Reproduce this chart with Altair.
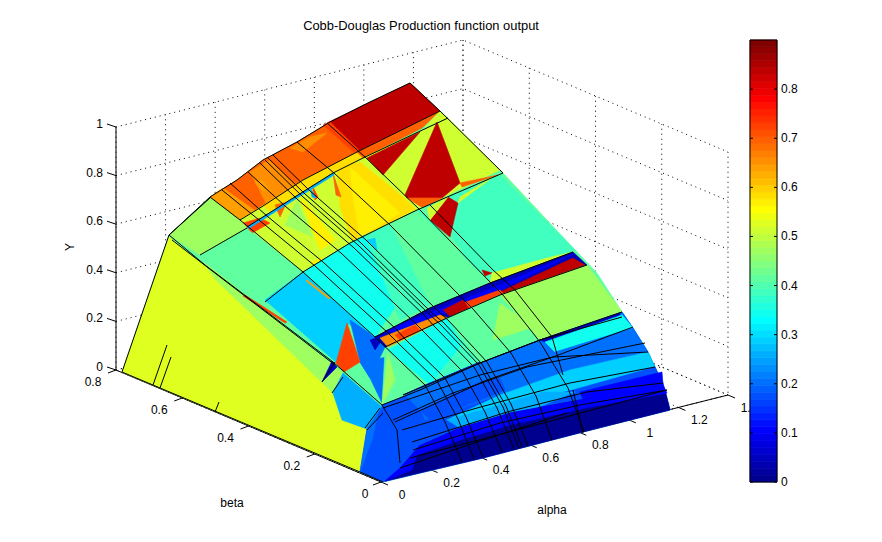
import altair as alt
import pandas as pd

# ---------- values ----------
title_text = "Cobb-Douglas Production function output"
alpha_ticks = [0, 0.2, 0.4, 0.6, 0.8, 1, 1.2, 1.4]
beta_ticks = [0, 0.2, 0.4, 0.6, 0.8]
y_ticks = [0, 0.2, 0.4, 0.6, 0.8, 1]
bar_ticks = [0, 0.1, 0.2, 0.3, 0.4, 0.5, 0.6, 0.7, 0.8]

# colour values (position on the colour bar) of the surface patches
NAVY, DB, BL, B2, B3, B4, B5, CY = 0.014, 0.056, 0.11, 0.17, 0.21, 0.254, 0.29, 0.34
T1, T2, G1, G2, YG, Y1, Y2 = 0.38, 0.41, 0.477, 0.5175, 0.533, 0.5625, 0.578
O1, O2, O3, O4, R2, R3 = 0.637, 0.66, 0.70, 0.727, 0.83, 0.84

# The surface is only known through its flattened view: view-plane points
back_arc = [(210,197),(237,180),(263,160),(297,142),(330,122),(370,102),(410,83)]
arc_a1 = [(240,220),(263,206),(303,180),(357,152),(440,111)]
arc_a2 = [(247,227),(333,173),(363,158),(448,118)]
arc_c = [(303,272),(350,243),(388,224),(417,210),(503,173)]
arc_e = [(375,337),(430,308),(490,283),(573,252)]
arc_bl = [(385,347),(447,318),(500,295),(587,265)]
arc_g = [(382,405),(420,390),(480,363),(540,340),(622,312)]

patches = [
    (T2, [(122,372),(169,235)] + back_arc + [(440,111),(503,173),(547,220),(597,273),(622,312),(633,328),(648,352),(655,367),(663,383),(670,410),(583,432),(483,458),(383,482),(360,472)]),
    # back row
    (O3, back_arc[:5] + [(357,152),(303,180),(240,220)]),
    (O1, [(210,197),(223,188),(257,212),(240,220)]),
    (O2, [(250,172),(270,160),(297,187),(267,205)]),
    (O1, [(255,182),(262,180),(272,192),(262,190)]),
    (O2, [(290,148),(310,137),(327,133),(303,152)]),
    (R3, [(327,123),(370,102),(410,83),(440,111),(357,152)]),
    (O4, [(323,125),(330,122),(360,151),(355,153)]),
    # thin band
    (Y2, [(240,220),(303,180),(357,152),(363,158),(333,173),(247,227)]),
    (G2, [(240,220),(263,206),(270,212),(247,227)]),
    (O3, [(357,152),(440,111),(422,128),(363,158)]),
    (G2, [(440,111),(448,118),(425,127)]),
    # yellow cell
    (G2, [(247,227),(333,173),(363,158),(417,210),(388,224),(350,243),(303,272)]),
    (Y2, [(337,167),(360,162),(417,208),(353,243),(340,207)]),
    (Y1, [(350,167),(400,213),(360,237),(353,197)]),
    (G1, [(297,200),(313,237),(285,225)]),
    (Y1, [(300,195),(335,240),(320,250),(305,210)]),
    (O3, [(275,205),(287,202),(280,217)]),
    (O3, [(333,173),(341,197),(336,195)]),
    (O4, [(243,223),(252,233),(270,223),(260,218)]),
    (O4, [(312,185),(318,197),(315,200)]),
    (B4, [(310,187),(316,198),(312,197)]),
    (Y1, [(310,263),(323,257),(317,265)]),
    (CY, [(375,153),(448,118),(448,120),(375,155)]),
    (B4, [(247,227),(333,173),(334,175),(248,229)]),
    # red cell on the right
    (G2, [(363,158),(448,118),(500,170),(417,210)]),
    (R2, [(367,158),(420,132),(383,175)]),
    (R2, [(437,122),(460,183),(442,198),(407,198),(405,195)]),
    (O3, [(407,198),(442,198),(423,208)]),
    (O3, [(460,183),(498,175),(462,187)]),
    # left cells
    (G1, [(169,235),(210,198),(240,220),(247,228),(200,255)]),
    (T2, [(200,255),(247,229),(303,272),(267,297)]),
    (YG, [(122,372),(169,237),(205,266),(215,277),(332,392),(342,420),(367,429),(360,472)]),
    (G1, [(205,263),(343,373),(332,392),(215,279)]),
    (B5, [(265,300),(303,272),(375,337),(350,325),(347,323),(337,363)]),
    (B3, [(350,320),(375,337),(385,347),(370,378),(360,362)]),
    (O4, [(347,323),(360,362),(344,372),(336,363)]),
    (DB, [(332,361),(322,382),(337,367)]),
    (DB, [(370,340),(385,335),(375,350)]),
    (B4, [(333,393),(343,373),(382,407),(367,429),(342,420)]),
    (B3, [(360,362),(387,357),(382,403),(370,378)]),
    (T2, [(347,373),(368,393),(357,368)]),
    (B2, [(367,429),(382,407),(395,425),(400,460),(383,482),(360,472)]),
    (B3, [(367,429),(378,413),(372,440),(360,472)]),
    (O4, [(245,295),(287,322),(285,323),(243,296)]),
    (O1, [(307,280),(330,298),(329,299),(306,281)]),
    # teal rows
    (T2, [(303,272),(350,243),(388,224),(417,210),(491,283),(430,308),(375,337)]),
    (CY, [(303,272),(350,243),(365,235),(400,300),(375,337)]),
    (T1, [(365,235),(390,224),(430,305),(400,320)]),
    (B5, [(367,240),(375,238),(377,250)]),
    (T1, [(417,210),(500,175),(575,250),(547,258),(492,273),(491,283)]),
    (T2, [(420,208),(425,208),(462,250),(455,250)]),
    (R2, [(448,197),(458,203),(450,237),(430,220)]),
    (G2, [(427,208),(448,197),(430,220)]),
    (G2, [(458,203),(493,177),(460,197)]),
    (R2, [(482,270),(492,273),(485,276)]),
    (G2, [(490,283),(492,273),(547,258),(573,252)]),
    # dark band
    (DB, arc_e + arc_bl[::-1]),
    (BL, [(385,331),(500,285),(573,254),(500,290),(400,333)]),
    (R2, [(500,292),(573,258),(585,265),(505,295)]),
    (O4, [(463,303),(500,290),(505,295),(470,309)]),
    (R2, [(443,310),(463,300),(470,310),(452,318)]),
    (O2, [(380,338),(440,315),(448,318),(388,347)]),
    (O4, [(395,335),(415,325),(420,330),(400,340)]),
    # green row
    (T2, [(447,318),(500,295),(540,340),(480,365)]),
    (G1, [(500,295),(587,265),(622,312),(540,340)]),
    (G1, [(493,340),(533,327),(500,303)]),
    (CY, [(388,350),(447,318),(462,345),(430,385)]),
    (T1, [(447,318),(480,365),(430,385),(462,345)]),
    (T2, [(385,350),(425,387),(382,405)]),
    (G1, [(388,353),(395,380),(382,405)]),
    # blue rows
    (B2, [(382,405),(420,390),(480,363),(540,340),(622,312),(633,328),(648,352),(655,367),(663,383),(670,410),(583,432),(483,458),(383,482)]),
    (B3, [(405,395),(480,363),(540,340),(622,312),(633,328),(555,355),(480,385),(420,410)]),
    (DB, [(403,395),(480,362),(425,385)]),
    (DB, [(540,340),(620,313),(620,316),(545,342)]),
    (CY, [(622,315),(633,328),(555,352),(545,342)]),
    (B3, [(633,328),(648,352),(570,370),(500,395),(425,420),(420,408),(480,380),(555,352)]),
    (B2, [(420,410),(480,382),(500,378),(505,390),(430,420)]),
    (B5, [(648,352),(655,367),(573,390),(510,405),(447,420),(500,395),(570,370)]),
    (B2, [(445,422),(573,390),(655,367),(663,385),(585,405),(510,413),(460,428),(420,445)]),
    (BL, [(580,392),(662,372),(663,385),(585,405)]),
    (B4, [(447,420),(500,405),(543,392),(575,392),(537,408),(500,417),(460,428)]),
    (NAVY, [(400,463),(417,447),(460,428),(510,413),(580,400),(665,390),(670,410),(583,432),(483,458),(385,481)]),
    (BL, [(417,447),(460,428),(510,413),(580,400),(663,385),(667,393),(585,408),(510,425),(460,440),(408,458)]),
    (B2, [(388,418),(410,420),(420,445),(400,468),(385,481)]),
    (BL, [(400,468),(420,445),(412,470),(385,481)]),
]

mesh_lines = [
    [(122,372),(169,235)] + [(210,197)],
    back_arc + [(440,111),(503,173)],
    [(169,235),(210,198)],
    arc_a1, arc_a2, arc_c, arc_e, arc_bl, arc_g,
    [(200,255),(247,228)],
    [(265,302),(303,272)],
    [(122,372),(360,472),(383,482)],
    [(169,235),(205,265),(333,362),(382,405),(397,430),(400,463)],
    [(172,240),(250,300),(335,365)],
    [(210,197),(240,220),(303,272),(375,337),(425,385),(445,422),(462,462)],
    [(222,190),(259,220),(315,266),(387,332),(397,342),(437,381),(458,419),(474,459)],
    [(230,183),(267,216),(323,262),(395,328),(405,339),(445,378),(466,417),(483,457)],
    [(248,172),(285,206),(341,253),(413,321),(423,331),(462,371),(485,412),(502,452)],
    [(260,163),(297,199),(353,247),(425,316),(435,327),(474,367),(497,408),(514,449)],
    [(265,160),(302,196),(358,245),(429,314),(441,325),(479,365),(503,407),(519,448)],
    [(268,158),(305,194),(361,243),(432,313),(444,323),(482,364),(506,406),(522,447)],
    [(273,155),(310,191),(366,240),(437,310),(449,321),(487,362),(511,404),(528,446)],
    [(297,142),(334,173),(390,225),(461,297),(473,309),(511,353),(536,396),(552,440)],
    [(327,123),(365,157),(420,210),(491,283),(503,295),(540,342),(568,388),(584,432)],
    [(430,205),(493,270),(515,290),(552,337),(563,375)],
    [(573,390),(583,433)],
    [(403,395),(480,363),(540,340),(622,317)],
    [(383,408),(480,375),(553,357),(633,327)],
    [(393,420),(453,393),(527,367),(645,343)],
    [(395,422),(487,380),(553,357),(648,352)],
    [(402,430),(477,408),(570,383),(655,367)],
    [(412,442),(507,412),(587,392),(663,383)],
    [(413,450),(500,423),(580,405),(667,390)],
    [(410,458),(517,430),(667,390)],
    [(400,468),(483,440),(567,413)],
    [(153,385),(167,345)], [(160,388),(171,357)], [(215,412),(219,402)],
    [(332,393),(343,377)], [(322,382),(335,362)], [(365,428),(380,408)], [(367,430),(383,413)],
]

# ---------- helpers ----------
def jet(v):
    t = min(max(v / 0.9, 0), 0.9999)
    t = (int(t * 64) + 1) / 64
    c = lambda d: max(0.0, min(1.0, 1.5 - abs(4 * t - d)))
    return "#%02x%02x%02x" % tuple(round(255 * c(d)) for d in (3, 2, 1))

def proj(a, b, z):
    # orthographic view of the MATLAB box
    return (381 + a / 1.4 * 347 - b / 0.8 * 265, 482 - a / 1.4 * 87 - b / 0.8 * 112 - z * 243)

X = alt.X("x:Q", scale=alt.Scale(domain=[8, 874], nice=False, zero=False), axis=None)
Y = alt.Y("y:Q", scale=alt.Scale(domain=[534, 8], nice=False, zero=False), axis=None)

def path_frame(paths):
    rows = []
    for i, p in enumerate(paths):
        for j, (x, y) in enumerate(p):
            rows.append({"id": i, "k": j, "x": x, "y": y})
    return pd.DataFrame(rows)

def lines(paths, **kw):
    return alt.Chart(path_frame(paths)).mark_line(color="black", strokeWidth=1, interpolate="linear", **kw).encode(
        x=X, y=Y, detail="id:N", order="k:Q")

# grid on walls and floor
grid = []
for z in y_ticks:
    grid.append([proj(0, .8, z), proj(1.4, .8, z), proj(1.4, 0, z)])
for a in alpha_ticks:
    grid.append([proj(a, 0, 0), proj(a, .8, 0), proj(a, .8, 1)])
for b in beta_ticks:
    grid.append([proj(0, b, 0), proj(1.4, b, 0), proj(1.4, b, 1)])

# box edges and ticks
frame = [[proj(0, .8, 1), proj(0, .8, 0), proj(0, 0, 0), proj(1.4, 0, 0)]]
for z in y_ticks:
    x0, y0 = proj(0, .8, z)
    frame.append([(x0, y0), (x0 - 9, y0 - 3)])
for a in alpha_ticks:
    x0, y0 = proj(a, 0, 0)
    frame.append([(x0, y0), (x0 + 7, y0 + 3)])
for b in beta_ticks:
    x0, y0 = proj(0, b, 0)
    frame.append([(x0, y0), (x0 - 8, y0 + 3)])

# patches
rows = []
for i, (v, pts) in enumerate(patches):
    for j, (x, y) in enumerate(pts):
        rows.append({"id": f"{i:03d}", "k": j, "x": x, "y": y, "c": jet(v)})
patch_df = pd.DataFrame(rows)
surface = alt.Chart(patch_df).mark_line(filled=True, interpolate="linear-closed", strokeWidth=0.6).encode(
    x=X, y=Y, detail="id:N", order="k:Q",
    fill=alt.Fill("c:N", scale=None), stroke=alt.Stroke("c:N", scale=None))

# colour bar
cb_y = lambda v: 482 - v / 0.9 * 442
bar_rows = [{"x": 750, "x2": 777, "y": cb_y(i * 0.9 / 64), "y2": cb_y((i + 1) * 0.9 / 64),
             "c": jet((i + 0.5) * 0.9 / 64)} for i in range(64)]
bar = alt.Chart(pd.DataFrame(bar_rows)).mark_rect(strokeWidth=0.7).encode(
    x=X, x2="x2:Q", y=Y, y2="y2:Q", fill=alt.Fill("c:N", scale=None), stroke=alt.Stroke("c:N", scale=None))
bar_paths = [[(750, 40), (777, 40), (777, 482), (750, 482), (750, 40)]]
for v in bar_ticks:
    bar_paths.append([(750, cb_y(v)), (753, cb_y(v))])
    bar_paths.append([(774, cb_y(v)), (777, cb_y(v))])

# texts
txt = []
for z in y_ticks:
    x0, y0 = proj(0, .8, z)
    txt.append({"x": x0 - 13, "y": y0 - 3, "t": f"{z:g}", "a": "right"})
for a in alpha_ticks:
    x0, y0 = proj(a, 0, 0)
    txt.append({"x": x0 + 21, "y": y0 + 13, "t": f"{a:g}", "a": "center"})
for b in beta_ticks:
    x0, y0 = proj(0, b, 0)
    txt.append({"x": x0 - (16 if b == 0 else 23), "y": y0 + 12, "t": f"{b:g}", "a": "center"})
for v in bar_ticks:
    txt.append({"x": 781, "y": cb_y(v), "t": f"{v:g}", "a": "left"})
txt += [{"x": 232, "y": 503, "t": "beta", "a": "center"},
        {"x": 552, "y": 510, "t": "alpha", "a": "center"}]
tdf = pd.DataFrame(txt)
FONT = "Liberation Sans"
labels = alt.layer(*[
    alt.Chart(tdf[tdf.a == al]).mark_text(font=FONT, fontSize=12, color="black", align=al, baseline="middle").encode(
        x=X, y=Y, text="t:N")
    for al in tdf.a.unique()])
title = alt.Chart(pd.DataFrame({"x": [421], "y": [26], "t": [title_text]})).mark_text(
    font=FONT, fontSize=12.9, color="black", align="center", baseline="middle").encode(x=X, y=Y, text="t:N")
ylab = alt.Chart(pd.DataFrame({"x": [70], "y": [247], "t": ["Y"]})).mark_text(
    font=FONT, fontSize=12, color="black", angle=270, baseline="middle").encode(x=X, y=Y, text="t:N")

chart = alt.layer(
    lines(grid, strokeDash=[1, 4]),
    lines(frame),
    surface,
    lines(mesh_lines),
    labels, title, ylab,
    bar, lines(bar_paths),
).properties(width=866, height=526, padding=0, autosize=alt.AutoSizeParams(type="none"), background="white"
).configure_view(stroke=None)

chart.save("out.html", embed_options={"renderer": "svg", "actions": False})
